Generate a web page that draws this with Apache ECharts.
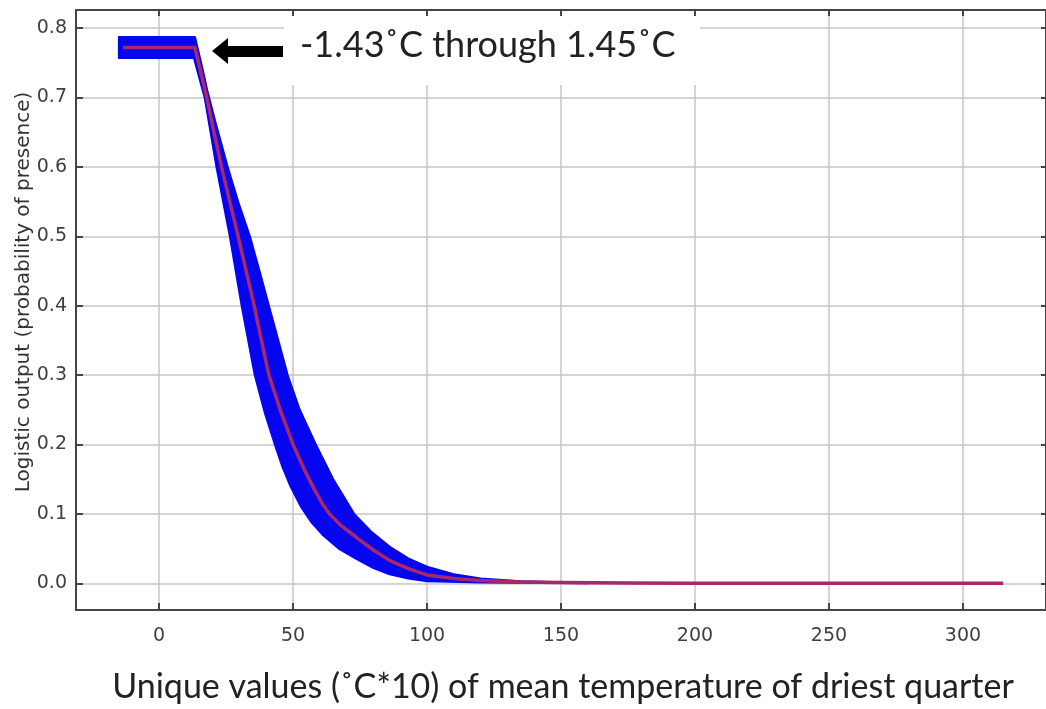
<!DOCTYPE html>
<html>
<head>
<meta charset="utf-8">
<script src="https://cdn.jsdelivr.net/npm/echarts@6/dist/echarts.min.js"></script>
<style>
  html, body { margin: 0; padding: 0; background: #ffffff; }
  #chart { width: 1046px; height: 709px; }
</style>
</head>
<body>
<div id="chart"></div>
<script>
// ---- Data ----
const xTitle = 'Unique values (\u02DAC*10) of mean temperature of driest quarter';
const yTitle = 'Logistic output (probability of presence)';
const noteText = '-1.43\u02DAC through 1.45\u02DAC';

// mean response (red line)
const meanX = [-13.4, 13.4, 17.8, 20.5, 23.3, 26.4, 29.5, 32.5, 35.5, 38.2, 41, 45.2, 50, 54.3, 58, 61.2, 63.6, 68, 74, 80, 86, 93, 100, 110, 120, 135, 150, 175, 200, 250, 315];
const meanY = [0.772, 0.772, 0.70, 0.65, 0.60, 0.55, 0.50, 0.45, 0.40, 0.35, 0.30, 0.25, 0.20, 0.163, 0.135, 0.113, 0.10, 0.083, 0.065, 0.048, 0.033, 0.021, 0.012, 0.007, 0.004, 0.002, 0.001, 0.0004, 0.0002, 0.0001, 0.0001];

// upper edge of the blue band (replicate range)
const upperX = [-15, 13.4, 16, 18, 21, 25.6, 29.5, 33.9, 37.5, 41, 44.5, 48, 52.5, 58.5, 65, 72.8, 79, 86, 93, 100, 110, 120, 135, 150, 160];
const upperY = [0.787, 0.787, 0.745, 0.71, 0.665, 0.60, 0.55, 0.50, 0.45, 0.40, 0.35, 0.30, 0.25, 0.20, 0.15, 0.10, 0.075, 0.053, 0.036, 0.024, 0.013, 0.007, 0.003, 0.0015, 0.0005];

// lower edge of the blue band
const lowerX = [-15, 13, 17, 21.4, 26.4, 30.8, 35.7, 39.5, 43.2, 46, 49, 53, 57, 61, 67, 73.6, 80, 86, 93, 100, 120, 150, 160];
const lowerY = [0.757, 0.757, 0.70, 0.60, 0.50, 0.40, 0.30, 0.245, 0.20, 0.168, 0.14, 0.11, 0.087, 0.07, 0.05, 0.035, 0.022, 0.013, 0.007, 0.003, 0.001, 0.0003, 0];

const xMin = -31, xMax = 331;
const yMin = -0.0385, yMax = 0.826;

// ---- Chart ----
const chart = echarts.init(document.getElementById('chart'), null, { renderer: 'canvas' });

const meanData = meanX.map((x, i) => [x, meanY[i]]);

const frameColor = '#454545';
const gridColor = '#c6c6c6';
const labelFont = { color: '#404040', fontSize: 19, fontFamily: '"DejaVu Sans", sans-serif' };

function bandRender(params, api) {
  const pts = [];
  for (let i = 0; i < upperX.length; i++) pts.push(api.coord([upperX[i], upperY[i]]));
  for (let i = lowerX.length - 1; i >= 0; i--) pts.push(api.coord([lowerX[i], lowerY[i]]));
  return {
    type: 'polygon',
    shape: { points: pts },
    style: { fill: '#0505f0', stroke: '#0505f0', lineWidth: 2, lineJoin: 'round' }
  };
}

const option = {
  animation: false,
  backgroundColor: '#ffffff',
  grid: { left: 76, right: -2, top: 10, bottom: 99, containLabel: false },
  xAxis: [
    {
      type: 'value', position: 'bottom', min: xMin, max: xMax,
      splitNumber: 7, minInterval: 50, maxInterval: 50,
      axisLine: { show: true, onZero: false, lineStyle: { color: frameColor, width: 2 } },
      axisTick: { show: true, inside: true, length: 7, lineStyle: { color: frameColor, width: 2 } },
      axisLabel: { show: true, margin: 17, showMinLabel: false, showMaxLabel: false, ...labelFont },
      splitLine: { show: true, lineStyle: { color: gridColor, width: 1.5 } }
    },
    {
      type: 'value', position: 'top', min: xMin, max: xMax,
      splitNumber: 7, minInterval: 50, maxInterval: 50,
      axisLine: { show: true, onZero: false, lineStyle: { color: frameColor, width: 2 } },
      axisTick: { show: true, inside: true, length: 6, lineStyle: { color: frameColor, width: 2 } },
      axisLabel: { show: false },
      splitLine: { show: false }
    }
  ],
  yAxis: [
    {
      type: 'value', position: 'left', min: yMin, max: yMax,
      splitNumber: 8, minInterval: 0.1, maxInterval: 0.1,
      axisLine: { show: true, onZero: false, lineStyle: { color: frameColor, width: 2 } },
      axisTick: { show: true, inside: true, length: 7, lineStyle: { color: frameColor, width: 2 } },
      axisLabel: {
        show: true, margin: 9, showMinLabel: false, showMaxLabel: false,
        formatter: v => v.toFixed(1), ...labelFont
      },
      splitLine: { show: true, lineStyle: { color: gridColor, width: 1.5 } }
    },
    {
      type: 'value', position: 'right', min: yMin, max: yMax,
      splitNumber: 8, minInterval: 0.1, maxInterval: 0.1,
      axisLine: { show: true, onZero: false, lineStyle: { color: frameColor, width: 2 } },
      axisTick: { show: true, inside: true, length: 5, lineStyle: { color: frameColor, width: 2 } },
      axisLabel: { show: false },
      splitLine: { show: false }
    }
  ],
  series: [
    {
      name: 'range',
      type: 'custom',
      xAxisIndex: 0, yAxisIndex: 0,
      renderItem: bandRender,
      data: [0],
      clip: true,
      z: 2
    },
    {
      name: 'mean',
      type: 'line',
      xAxisIndex: 0, yAxisIndex: 0,
      data: meanData,
      showSymbol: false,
      symbol: 'none',
      lineStyle: { color: '#a8286a', width: 3.5, join: 'round' },
      z: 3
    }
  ],
  graphic: [
    // white label box behind the annotation
    { type: 'rect', z: 50, shape: { x: 284, y: 16, width: 416, height: 69 }, style: { fill: '#ffffff' } },
    // arrow
    {
      type: 'polygon', z: 51,
      shape: { points: [[212, 51], [228, 38], [228, 46], [283, 46], [283, 57], [228, 57], [228, 64]] },
      style: { fill: '#000000' }
    },
    {
      type: 'text', z: 52, left: 300, top: 27,
      style: { text: noteText, fill: '#222222', fontSize: 36, fontFamily: 'Lato, "Open Sans", sans-serif' }
    },
    {
      type: 'text', z: 52,
      x: 563, y: 687,
      style: { text: xTitle, fill: '#222222', fontSize: 34, fontFamily: 'Lato, "Open Sans", sans-serif', align: 'center', verticalAlign: 'middle' }
    },
    {
      type: 'text', z: 52,
      x: 24, y: 292, rotation: Math.PI / 2,
      style: { text: yTitle, fill: '#333333', fontSize: 20, fontFamily: '"DejaVu Sans", sans-serif', align: 'center', verticalAlign: 'middle' }
    }
  ]
};

chart.setOption(option);
</script>
</body>
</html>
